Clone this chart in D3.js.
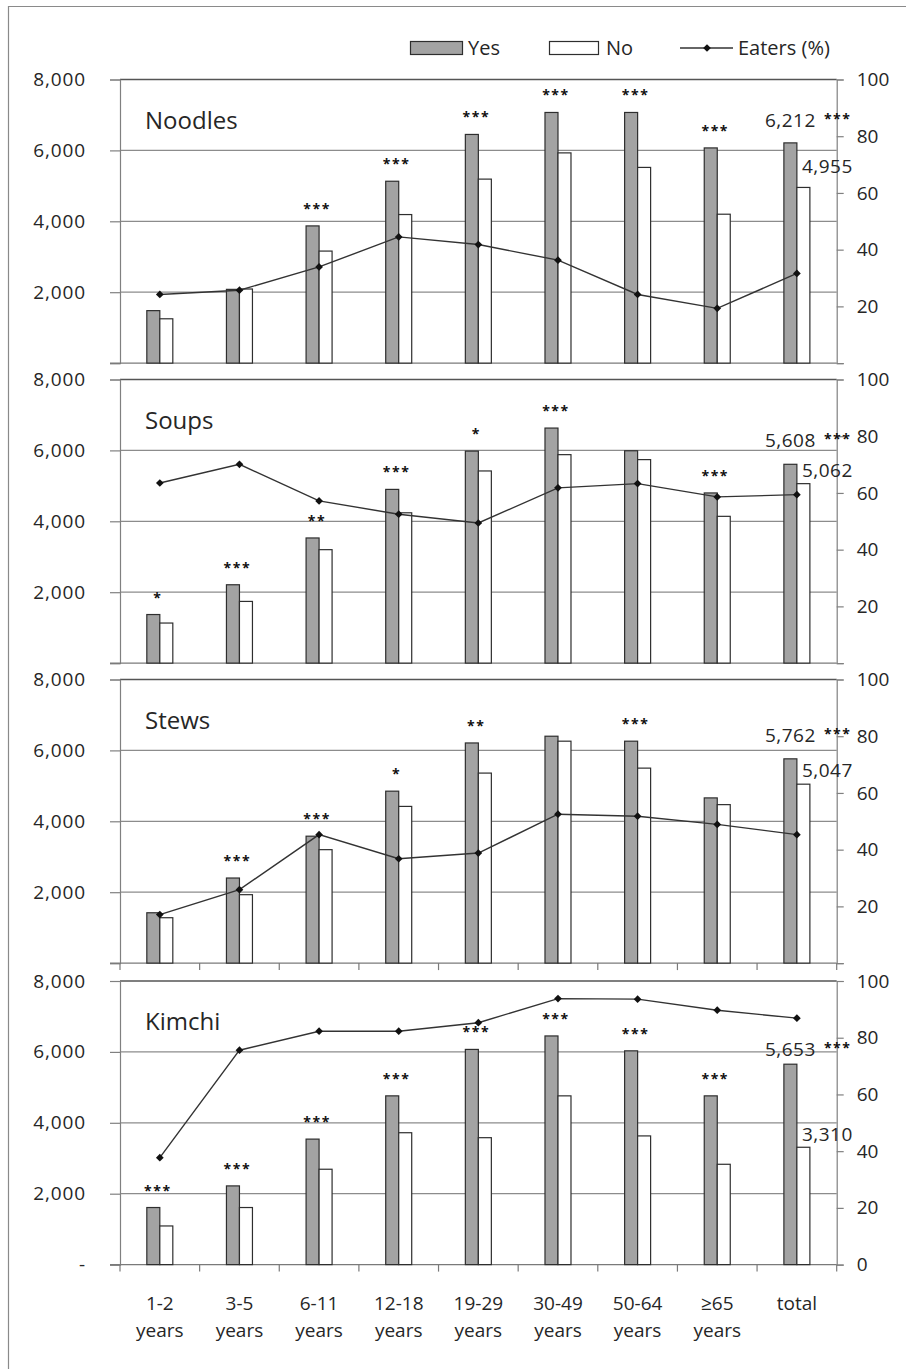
<!DOCTYPE html>
<html>
<head>
<meta charset="utf-8">
<script src="https://cdn.jsdelivr.net/npm/d3@7/dist/d3.min.js"></script>
<style>
  html, body { margin: 0; padding: 0; background: #fff; }
  svg text { font-family: "Open Sans", "Noto Sans", sans-serif; fill: #262626; }
</style>
</head>
<body>
<svg id="chart" width="906" height="1369"></svg>
<script>
// Age groups along the x axis
const categories = ["1-2 years", "3-5 years", "6-11 years", "12-18 years", "19-29 years",
                    "30-49 years", "50-64 years", "≥65 years", "total"];
const categoryLines = [["1-2", "years"], ["3-5", "years"], ["6-11", "years"], ["12-18", "years"],
                       ["19-29", "years"], ["30-49", "years"], ["50-64", "years"], ["≥65", "years"], ["total"]];

const foods = ["Noodles", "Soups", "Stews", "Kimchi"];

// Intake of eaters (Yes) and non-eaters (No), and share of eaters (%)
const noodlesYes = [1480, 2080, 3870, 5130, 6450, 7070, 7070, 6070, 6212];
const noodlesNo  = [1250, 2090, 3160, 4190, 5190, 5930, 5520, 4200, 4955];
const noodlesPct = [24.2, 25.7, 33.9, 44.5, 41.8, 36.3, 24.2, 19.3, 31.6];
const noodlesSig = ["", "", "***", "***", "***", "***", "***", "***", "***"];

const soupsYes = [1370, 2210, 3530, 4900, 5980, 6630, 5990, 4800, 5608];
const soupsNo  = [1130, 1740, 3200, 4240, 5420, 5880, 5740, 4140, 5062];
const soupsPct = [63.5, 70.1, 57.2, 52.5, 49.4, 61.8, 63.3, 58.6, 59.4];
const soupsSig = ["*", "***", "**", "***", "*", "***", "", "***", "***"];

const stewsYes = [1420, 2400, 3580, 4850, 6210, 6400, 6260, 4660, 5762];
const stewsNo  = [1280, 1930, 3200, 4420, 5360, 6260, 5500, 4470, 5047];
const stewsPct = [17.1, 25.9, 45.3, 36.8, 38.8, 52.5, 51.8, 48.9, 45.3];
const stewsSig = ["", "***", "***", "*", "**", "", "***", "", "***"];

const kimchiYes = [1610, 2220, 3540, 4760, 6070, 6450, 6030, 4760, 5653];
const kimchiNo  = [1090, 1610, 2690, 3720, 3580, 4760, 3630, 2830, 3310];
const kimchiPct = [37.7, 75.6, 82.3, 82.3, 85.3, 93.8, 93.6, 89.7, 86.9];
const kimchiSig = ["***", "***", "***", "***", "***", "***", "***", "***", "***"];

const leftTicks = [0, 2000, 4000, 6000, 8000];
const rightTicks = [0, 20, 40, 60, 80, 100];
const seriesNames = ["Yes", "No", "Eaters (%)"];

const panels = [
  { name: foods[0], yes: noodlesYes, no: noodlesNo, pct: noodlesPct, sig: noodlesSig },
  { name: foods[1], yes: soupsYes,   no: soupsNo,   pct: soupsPct,   sig: soupsSig },
  { name: foods[2], yes: stewsYes,   no: stewsNo,   pct: stewsPct,   sig: stewsSig },
  { name: foods[3], yes: kimchiYes,  no: kimchiNo,  pct: kimchiPct,  sig: kimchiSig }
];

// ---- layout ----
const plotLeft = 120, plotRight = 836.7;
const panelTop = [79.5, 379.5, 679.5, 981];
const panelH = 283.6;
const barW = 13;
const yesLift = [16, 17, 17, 8];   // total label offsets above their bars
const noLift  = [14, 7, 7, 6];

const svg = d3.select("#chart");

// outer frame
svg.append("path")
  .attr("d", "M8.5,1369 L8.5,6.5 L906,6.5")
  .attr("fill", "none").attr("stroke", "#8a8a8a").attr("stroke-width", 1.2);

const x = d3.scaleBand().domain(categories).range([plotLeft, plotRight]).padding(0);
const cx = c => x(c) + x.bandwidth() / 2;

function starText(sel) {
  return sel.attr("font-size", 14).attr("font-weight", "bold")
    .attr("letter-spacing", 1.6).style("fill", "#111");
}

panels.forEach((p, pi) => {
  const top = panelTop[pi], bottom = top + panelH;
  const last = pi === panels.length - 1;
  const yL = d3.scaleLinear().domain([0, 8000]).range([bottom, top]);
  const yR = d3.scaleLinear().domain([0, 100]).range([bottom, top]);
  const g = svg.append("g");

  // gridlines
  g.selectAll("line.grid").data([2000, 4000, 6000]).join("line")
    .attr("x1", plotLeft).attr("x2", plotRight)
    .attr("y1", d => yL(d)).attr("y2", d => yL(d))
    .attr("stroke", "#8c8c8c").attr("stroke-width", 1.2);
  g.append("line").attr("x1", plotLeft).attr("x2", plotRight)
    .attr("y1", yL(8000)).attr("y2", yL(8000))
    .attr("stroke", "#555").attr("stroke-width", 1.3);

  // left axis
  const lt = last ? leftTicks : leftTicks.slice(1);
  const leftAxis = d3.axisLeft(yL).tickValues(leftTicks).tickSize(10).tickPadding(24)
    .tickFormat(d => lt.includes(d) ? (d === 0 ? "-" : d3.format(",")(d)) : "");
  const la = g.append("g").attr("transform", `translate(${plotLeft},0)`).call(leftAxis);
  la.select(".domain").attr("stroke", "#808080").attr("stroke-width", 1.2);
  la.selectAll(".tick line").attr("stroke", "#808080").attr("stroke-width", 1.2);
  la.selectAll(".tick text").attr("font-size", 19).attr("letter-spacing", 0.9)
    .attr("fill", "#262626").style("font-family", '"Open Sans", sans-serif');

  // right axis
  const rt = last ? rightTicks : rightTicks.slice(1);
  const rightAxis = d3.axisRight(yR).tickValues(rightTicks).tickSize(7).tickPadding(13)
    .tickFormat(d => rt.includes(d) ? d : "");
  const ra = g.append("g").attr("transform", `translate(${plotRight},0)`).call(rightAxis);
  ra.select(".domain").attr("stroke", "#808080").attr("stroke-width", 1.2);
  ra.selectAll(".tick line").attr("stroke", "#808080").attr("stroke-width", 1.2);
  ra.selectAll(".tick text").attr("font-size", 19)
    .attr("fill", "#262626").style("font-family", '"Open Sans", sans-serif');

  // bottom axis: category boundary ticks on the lower panels
  g.append("line").attr("x1", plotLeft - 10).attr("x2", plotRight)
    .attr("y1", bottom).attr("y2", bottom).attr("stroke", "#7a7a7a").attr("stroke-width", 1.3);
  if (pi >= 2) {
    g.selectAll("line.ctick").data(d3.range(categories.length + 1)).join("line")
      .attr("x1", i => plotLeft + i * x.bandwidth()).attr("x2", i => plotLeft + i * x.bandwidth())
      .attr("y1", bottom).attr("y2", bottom + 7)
      .attr("stroke", "#7a7a7a").attr("stroke-width", 1.2);
  }

  // bars
  g.selectAll("rect.yes").data(categories).join("rect")
    .attr("x", c => cx(c) - barW).attr("width", barW)
    .attr("y", (c, i) => yL(p.yes[i])).attr("height", (c, i) => bottom - yL(p.yes[i]))
    .attr("fill", "#a3a3a3").attr("stroke", "#2e2e2e").attr("stroke-width", 1.2);
  g.selectAll("rect.no").data(categories).join("rect")
    .attr("x", c => cx(c)).attr("width", barW)
    .attr("y", (c, i) => yL(p.no[i])).attr("height", (c, i) => bottom - yL(p.no[i]))
    .attr("fill", "#fff").attr("stroke", "#2e2e2e").attr("stroke-width", 1.2);

  // eaters (%) line
  const line = d3.line().x((d, i) => cx(categories[i])).y(d => yR(d));
  g.append("path").datum(p.pct).attr("d", line)
    .attr("fill", "none").attr("stroke", "#333").attr("stroke-width", 1.4);
  g.selectAll("path.mk").data(p.pct).join("path")
    .attr("transform", (d, i) => `translate(${cx(categories[i])},${yR(d)})`)
    .attr("d", d3.symbol(d3.symbolDiamond2, 38)())
    .attr("fill", "#111");

  // title
  g.append("text").attr("x", 145).attr("y", top + 49).attr("font-size", 24).text(p.name);

  // significance marks per age group
  g.selectAll("text.sig").data(categories.slice(0, -1)).join("text")
    .attr("x", c => cx(c) - 2)
    .attr("y", (c, i) => yL(p.yes[i]) - 12)
    .attr("text-anchor", "middle")
    .call(starText)
    .text((c, i) => p.sig[i]);

  // total labels
  const ti = categories.length - 1, tc = cx(categories[ti]);
  const yesY = yL(p.yes[ti]) - yesLift[pi];
  g.append("text").attr("x", tc - barW / 2).attr("y", yesY)
    .attr("text-anchor", "middle").attr("font-size", 19).attr("letter-spacing", 0.5)
    .text(d3.format(",")(p.yes[ti]));
  g.append("text").attr("x", tc + 27).attr("y", yesY - 3)
    .call(starText).text(p.sig[ti]);
  g.append("text").attr("x", tc + 5).attr("y", yL(p.no[ti]) - noLift[pi])
    .attr("font-size", 19).attr("letter-spacing", 0.5).text(d3.format(",")(p.no[ti]));

  // category labels under the last panel
  if (last) {
    categoryLines.forEach((lines, i) => {
      lines.forEach((t, k) => {
        g.append("text").attr("x", cx(categories[i])).attr("y", bottom + 45 + k * 27)
          .attr("text-anchor", "middle").attr("font-size", 19).text(t);
      });
    });
  }
});

// legend
const lg = svg.append("g");
lg.append("rect").attr("x", 410.5).attr("y", 41.5).attr("width", 52).attr("height", 13)
  .attr("fill", "#a3a3a3").attr("stroke", "#2e2e2e").attr("stroke-width", 1.2);
lg.append("text").attr("x", 468).attr("y", 55).attr("font-size", 20).text(seriesNames[0]);
lg.append("rect").attr("x", 549.5).attr("y", 41.5).attr("width", 49).attr("height", 13)
  .attr("fill", "#fff").attr("stroke", "#2e2e2e").attr("stroke-width", 1.2);
lg.append("text").attr("x", 606).attr("y", 55).attr("font-size", 20).text(seriesNames[1]);
lg.append("line").attr("x1", 680).attr("x2", 733).attr("y1", 48).attr("y2", 48)
  .attr("stroke", "#333").attr("stroke-width", 1.4);
lg.append("path").attr("transform", "translate(707,48)")
  .attr("d", d3.symbol(d3.symbolDiamond2, 38)()).attr("fill", "#111");
lg.append("text").attr("x", 738).attr("y", 55).attr("font-size", 20).text(seriesNames[2]);
</script>
</body>
</html>
